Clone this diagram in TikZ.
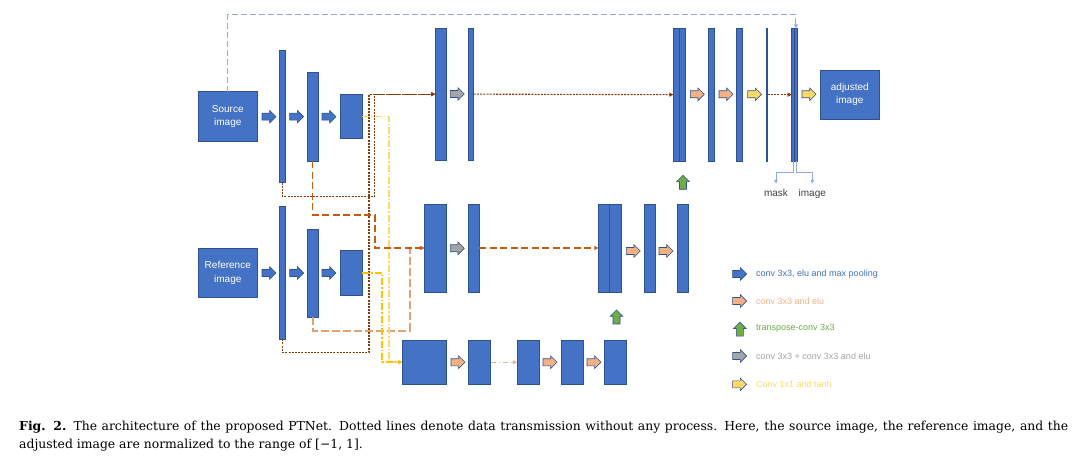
\documentclass[tikz,border=0pt]{standalone}
\usepackage{fontspec}
\setsansfont{Liberation Sans}
\newfontfamily\capfont{DejaVu Serif}
\usetikzlibrary{shapes.arrows,arrows.meta,calc}
\definecolor{bblue}{HTML}{4472C4}
\definecolor{bedge}{HTML}{2F528F}
\definecolor{aorange}{HTML}{F4B183}
\definecolor{agreen}{HTML}{70AD47}
\definecolor{agray}{HTML}{A5A5A5}
\definecolor{ayellow}{HTML}{FFD966}
\definecolor{dred}{HTML}{843C0C}
\definecolor{dorange}{HTML}{C55A11}
\definecolor{torange}{HTML}{DFA277}
\definecolor{ygold}{HTML}{FFC000}
\definecolor{lblue}{HTML}{8FAADC}
\definecolor{lbltext}{HTML}{404040}
\tikzset{
  blk/.style={draw=bedge, line width=0.6pt, fill=bblue, inner sep=0pt, outer sep=0pt},
  imgbox/.style={blk, text=white, font=\sffamily\fontsize{10}{13.5}\selectfont, align=center},
  barrow/.style={single arrow, draw=bedge, line width=0.6pt, inner sep=3.2pt,
    minimum height=14pt, minimum width=12pt, single arrow head extend=2.8pt, anchor=tail},
  blue arrow/.style={barrow, fill=bblue},
  orange arrow/.style={barrow, fill=aorange},
  gray arrow/.style={barrow, fill=agray},
  yellow arrow/.style={barrow, fill=ayellow},
  green arrow/.style={barrow, fill=agreen, shape border rotate=90},
  tipa/.style={-{Triangle[length=4pt,width=4pt]}},
  skipred/.style={draw=dred, line width=1.1pt, dash pattern=on 2pt off 1.2pt, tipa},
  skiporange/.style={draw=dorange, line width=1.1pt, dash pattern=on 7pt off 3.5pt, tipa},
  skiptan/.style={draw=torange, line width=1.8pt, dash pattern=on 8pt off 3pt, tipa},
  skipgold/.style={draw=ygold, line width=1.4pt, dash pattern=on 7pt off 2pt on 1.5pt off 2pt, tipa},
  skiplight/.style={draw=ayellow, line width=1.4pt, dash pattern=on 7pt off 2pt on 1.5pt off 2pt, tipa},
  skippeach/.style={draw=aorange, line width=1.2pt, dash pattern=on 5pt off 3pt on 1.5pt off 3pt, tipa},
  topblue/.style={draw=lblue, line width=1.1pt, dash pattern=on 6pt off 3pt, tipa},
  branch/.style={draw=lblue, line width=0.8pt, -{Triangle[length=3.5pt,width=3.5pt]}, color=lblue},
  outlbl/.style={font=\sffamily\fontsize{10}{12}\selectfont, text=lbltext, inner xsep=1pt, inner ysep=5.5pt, anchor=north},
  legtext/.style={font=\sffamily\fontsize{9}{11}\selectfont, inner sep=0pt, anchor=west},
}
\begin{document}
\begin{tikzpicture}[x=1pt,y=-1pt]
\useasboundingbox (0,0) rectangle (1080,457);
\fill[white] (0,0) rectangle (1080,457);

% ---------------- encoder (source)
\node[imgbox, minimum width=59pt, minimum height=50pt] (src) at (227.8,116.7) {Source\\image};
\node[blk, minimum width=6.7pt, minimum height=132pt] (sb1) at (282.35,116.7) {};
\node[blk, minimum width=11.7pt, minimum height=89.3pt] (sb2) at (312.85,116.65) {};
\node[blk, minimum width=22.3pt, minimum height=44.4pt] (sb3) at (351.15,116.5) {};
\node[blue arrow] (sa1) at (261.7,116.7) {};
\node[blue arrow] (sa2) at (289.3,116.7) {};
\node[blue arrow] (sa3) at (321.7,116.7) {};

% ---------------- encoder (reference)
\node[imgbox, minimum width=59pt, minimum height=49.4pt] (ref) at (227.8,273) {Reference\\image};
\node[blk, minimum width=6.7pt, minimum height=132.6pt] (rb1) at (282.35,273) {};
\node[blk, minimum width=11.7pt, minimum height=88pt] (rb2) at (312.85,273.3) {};
\node[blk, minimum width=22.3pt, minimum height=44.3pt] (rb3) at (351.15,272.85) {};
\node[blue arrow] (ra1) at (261.7,273) {};
\node[blue arrow] (ra2) at (289.3,273) {};
\node[blue arrow] (ra3) at (321.7,273) {};

% ---------------- top decoder
\node[blk, minimum width=11.4pt, minimum height=131.7pt] (ta) at (441,94.15) {};
\node[blk, minimum width=5.4pt, minimum height=131.7pt] (tb) at (471,94.15) {};
\node[gray arrow] (tga) at (450,94) {};
\node[blk, minimum width=6pt, minimum height=132.7pt] (tc1) at (676.3,94.65) {};
\node[blk, minimum width=6.4pt, minimum height=132.7pt] (tc2) at (682.5,94.65) {};
\node[orange arrow] (toa1) at (690,94.3) {};
\node[blk, minimum width=6pt, minimum height=132.7pt] (td) at (711.3,94.65) {};
\node[orange arrow] (toa2) at (718.7,94.3) {};
\node[blk, minimum width=5.6pt, minimum height=132.7pt] (te) at (739.5,94.65) {};
\node[yellow arrow] (tya1) at (747.3,94.3) {};
\node[blk, minimum width=1.7pt, minimum height=132.7pt] (tf) at (766.85,94.65) {};
\node[blk, minimum width=2.8pt, minimum height=132.7pt] (tg1) at (793.1,94.65) {};
\node[blk, minimum width=2.8pt, minimum height=132.7pt] (tg2) at (795.9,94.65) {};
\node[yellow arrow] (tya2) at (801.7,94.3) {};
\node[imgbox, minimum width=59pt, minimum height=49.3pt] (adj) at (849.8,94.65) {adjusted\\image};
\node[green arrow] (tgr) at (683,189.6) {};

% ---------------- middle decoder
\node[blk, minimum width=22.4pt, minimum height=88pt] (ma) at (435.5,248) {};
\node[gray arrow] (mga) at (450,248.3) {};
\node[blk, minimum width=11pt, minimum height=88pt] (mb) at (473.8,248) {};
\node[blk, minimum width=11.4pt, minimum height=88pt] (mc1) at (604,248) {};
\node[blk, minimum width=12pt, minimum height=88pt] (mc2) at (615.7,248) {};
\node[orange arrow] (moa1) at (626,251) {};
\node[blk, minimum width=10.7pt, minimum height=88pt] (md) at (649.65,248) {};
\node[orange arrow] (moa2) at (658.7,251) {};
\node[blk, minimum width=11.4pt, minimum height=88pt] (me) at (683,248) {};
\node[green arrow] (mgr) at (616.5,324.3) {};

% ---------------- bottom row
\node[blk, minimum width=44.4pt, minimum height=44.3pt] (bm) at (424.5,362.15) {};
\node[orange arrow] (boa1) at (450.7,362.3) {};
\node[blk, minimum width=22.4pt, minimum height=44.3pt] (bn) at (479.5,362.15) {};
\node[blk, minimum width=22pt, minimum height=44.3pt] (bo) at (528,362.15) {};
\node[orange arrow] (boa2) at (542.7,362.3) {};
\node[blk, minimum width=22.3pt, minimum height=44.3pt] (bp) at (572.15,362.15) {};
\node[orange arrow] (boa3) at (586.7,362.3) {};
\node[blk, minimum width=22.4pt, minimum height=44.3pt] (bq) at (615.5,362.15) {};

% ---------------- skip connections
\draw[topblue] (src.north) -- ++(0,-77) -| (tg2.north);
\draw[skipred] (sb1.south) |- (374.3,196.7) |- (ta.west);
\draw[skipred] (rb1.south) |- (369,352.3) |- (ta.west);
\draw[skipred] (tb.east) -- (tc1.west);
\draw[skipred] (tf.east) -- (tg1.west);
\draw[skiptan] (rb2.south) |- (410,330.7) |- (ma.west);
\draw[skiporange] (sb2.south) |- (375,215) |- (ma.west);
\draw[skiporange] (mb.east) -- (mc1.west);
\draw[skiplight] (sb3.east) -| (389,362.15) -- (bm.west);
\draw[skipgold] (rb3.east) -| (382,362.15) -- (bm.west);
\draw[skippeach] (bn.east) -- (bo.west);

% ---------------- outputs mask / image
\node[outlbl] (mask) at (776,183.5) {mask};
\node[outlbl] (imgo) at (812.3,183.5) {image};
\draw[branch] (tg1.south) -- ++(0,11.7) -| (mask.north);
\draw[branch] (tg2.south) -- ++(0,11.7) -| (imgo.north);

% ---------------- legend
\node[blue arrow] (l1) at (732.3,274) {};
\node[legtext, text=bblue] (lt1) at (756,274) {conv 3x3, elu and max pooling};
\node[orange arrow] (l2) at (732.3,301) {};
\node[legtext, text=aorange] (lt2) at (756,301) {conv 3x3 and elu};
\node[green arrow] (l3) at (739.8,336.5) {};
\node[legtext, text=agreen] (lt3) at (756,328.5) {transpose-conv 3x3};
\node[gray arrow] (l4) at (732.3,356) {};
\node[legtext, text=agray] (lt4) at (756,356) {conv 3x3 + conv 3x3 and elu};
\node[yellow arrow] (l5) at (732.3,384.3) {};
\node[legtext, text=ayellow] (lt5) at (756,384.3) {Conv 1x1 and tanh};

% ---------------- caption
\node[anchor=base west, inner sep=0pt] (cap1) at (19,430.7)
  {\capfont\fontsize{12.4}{15}\selectfont\makebox[1049pt][s]{\textbf{Fig. 2.} The architecture of the proposed PTNet. Dotted lines denote data transmission without any process. Here, the source image, the reference image, and the}};
\node[anchor=base west, inner sep=0pt] (cap2) at (19,448)
  {\capfont\fontsize{12.4}{15}\selectfont adjusted image are normalized to the range of [\textminus1, 1].};
\end{tikzpicture}
\end{document}
